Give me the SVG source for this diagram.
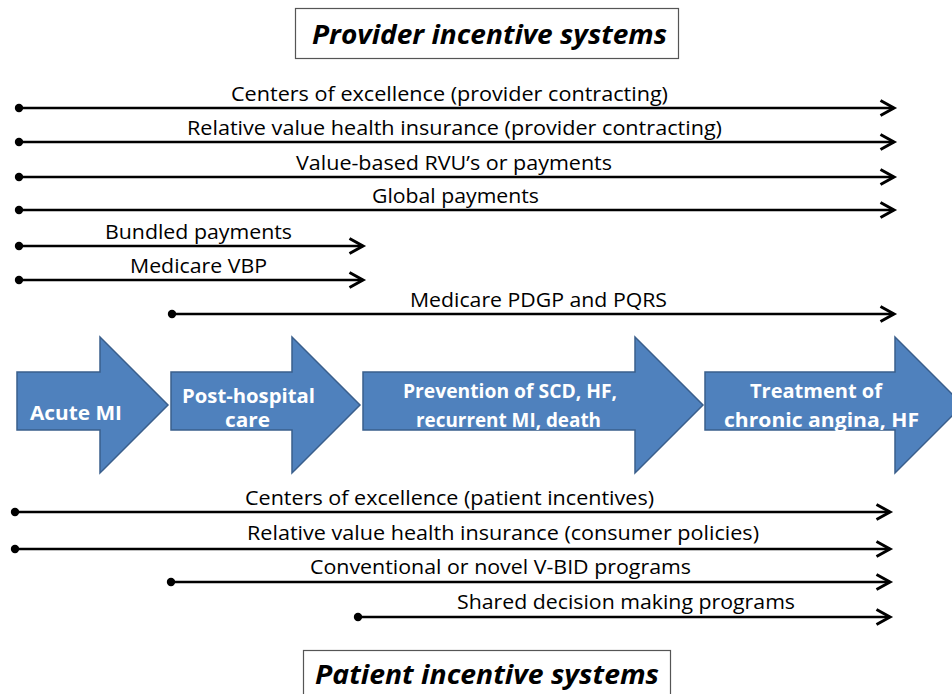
<svg xmlns="http://www.w3.org/2000/svg" width="952" height="694" viewBox="0 0 952 694">
  <defs>
    <style>
      .lbl { font-family: "Open Sans", "Liberation Sans", sans-serif; font-size: 20px; fill: #000; }
      .ttl { font-family: "Open Sans", "Liberation Sans", sans-serif; font-size: 27px; font-weight: bold; font-style: italic; fill: #000; }
      .box { fill: #fff; stroke: #555; stroke-width: 1.2; }
      .stage { fill: #4F81BD; stroke: #3A5F8C; stroke-width: 1.5; }
      .stxt { font-family: "Open Sans", "Liberation Sans", sans-serif; font-size: 19px; font-weight: bold; fill: #fff; }
      .conn { fill: none; stroke: #000; stroke-width: 2.6; marker-start: url(#dot); marker-end: url(#chev); }
    </style>
    <marker id="dot" markerUnits="userSpaceOnUse" viewBox="0 0 10 10" markerWidth="10" markerHeight="10" refX="5" refY="5" orient="auto">
      <circle cx="5" cy="5" r="4.2" fill="#000"/>
    </marker>
    <marker id="chev" markerUnits="userSpaceOnUse" viewBox="0 0 20 18" markerWidth="20" markerHeight="18" refX="15" refY="9" orient="auto">
      <path d="M1.5,1.5 L15,9 L1.5,16.5" fill="none" stroke="#000" stroke-width="3"/>
    </marker>
  </defs>

  <rect width="952" height="694" fill="#fff"/>

  <!-- header: provider side -->
  <g id="provider-title">
    <rect class="box" x="295.5" y="8.5" width="383" height="50"/>
    <text class="ttl" x="312" y="44" textLength="355" lengthAdjust="spacingAndGlyphs">Provider incentive systems</text>
  </g>

  <!-- care stages -->
  <g id="stage-acute">
    <path class="stage" d="M17,372 H100 V337 L168,405 L100,473 V430 H17 Z"/>
    <text class="stxt" x="30" y="420" textLength="92" lengthAdjust="spacingAndGlyphs">Acute MI</text>
  </g>
  <g id="stage-post">
    <path class="stage" d="M171,372 H292 V337 L360,405 L292,473 V430 H171 Z"/>
    <text class="stxt" x="182" y="403" textLength="133" lengthAdjust="spacingAndGlyphs">Post-hospital</text>
    <text class="stxt" x="225" y="427" textLength="45" lengthAdjust="spacingAndGlyphs">care</text>
  </g>
  <g id="stage-prevention">
    <path class="stage" d="M363,372 H635 V337 L703,405 L635,473 V430 H363 Z"/>
    <text class="stxt" x="403" y="398" textLength="214" lengthAdjust="spacingAndGlyphs">Prevention of SCD, HF,</text>
    <text class="stxt" x="416" y="427" textLength="185" lengthAdjust="spacingAndGlyphs">recurrent MI, death</text>
  </g>
  <g id="stage-treatment">
    <path class="stage" d="M705,372 H895 V337 L963,405 L895,473 V430 H705 Z"/>
    <text class="stxt" x="750" y="398" textLength="132" lengthAdjust="spacingAndGlyphs">Treatment of</text>
    <text class="stxt" x="724" y="427" textLength="195" lengthAdjust="spacingAndGlyphs">chronic angina, HF</text>
  </g>

  <!-- incentive spans -->
  <g id="connectors">
    <path class="conn" d="M19,108 H894"/>
    <path class="conn" d="M19,142 H894"/>
    <path class="conn" d="M19,177 H894"/>
    <path class="conn" d="M19,210 H894"/>
    <path class="conn" d="M19,246 H363"/>
    <path class="conn" d="M19,280 H363"/>
    <path class="conn" d="M172,314 H894"/>
    <path class="conn" d="M15,512 H890"/>
    <path class="conn" d="M15,549 H890"/>
    <path class="conn" d="M171,582 H890"/>
    <path class="conn" d="M358,617 H890"/>
  </g>

  <!-- span labels -->
  <g id="labels">
    <text class="lbl" x="231" y="101" textLength="437" lengthAdjust="spacingAndGlyphs">Centers of excellence (provider contracting)</text>
    <text class="lbl" x="187" y="135" textLength="535" lengthAdjust="spacingAndGlyphs">Relative value health insurance (provider contracting)</text>
    <text class="lbl" x="296" y="170" textLength="316" lengthAdjust="spacingAndGlyphs">Value-based RVU’s or payments</text>
    <text class="lbl" x="372" y="203" textLength="167" lengthAdjust="spacingAndGlyphs">Global payments</text>
    <text class="lbl" x="105" y="239" textLength="187" lengthAdjust="spacingAndGlyphs">Bundled payments</text>
    <text class="lbl" x="130" y="273" textLength="137" lengthAdjust="spacingAndGlyphs">Medicare VBP</text>
    <text class="lbl" x="410" y="307" textLength="257" lengthAdjust="spacingAndGlyphs">Medicare PDGP and PQRS</text>
    <text class="lbl" x="245" y="505" textLength="409" lengthAdjust="spacingAndGlyphs">Centers of excellence (patient incentives)</text>
    <text class="lbl" x="247" y="540" textLength="512" lengthAdjust="spacingAndGlyphs">Relative value health insurance (consumer policies)</text>
    <text class="lbl" x="310" y="574" textLength="381" lengthAdjust="spacingAndGlyphs">Conventional or novel V-BID programs</text>
    <text class="lbl" x="457" y="609" textLength="338" lengthAdjust="spacingAndGlyphs">Shared decision making programs</text>
  </g>

  <!-- footer: patient side -->
  <g id="patient-title">
    <rect class="box" x="303.5" y="650.5" width="367" height="60"/>
    <text class="ttl" x="315" y="684" textLength="344" lengthAdjust="spacingAndGlyphs">Patient incentive systems</text>
  </g>
</svg>
